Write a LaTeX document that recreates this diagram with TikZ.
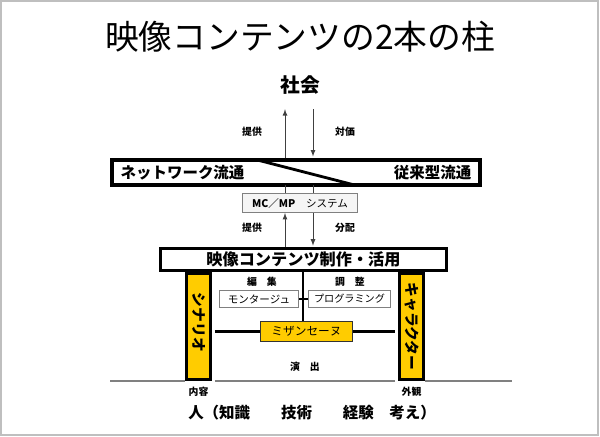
\documentclass[tikz,border=0pt]{standalone}
\usepackage{fontspec}
\setmainfont{Noto Sans CJK JP}
\usetikzlibrary{arrows, calc, positioning}
\definecolor{saeulengelb}{HTML}{FFCC00}

\begin{document}
\begin{tikzpicture}[x=0.025cm, y=-0.025cm,
			>=latex,   %Pfeilspitzen
			kasten/.style={draw, rectangle, inner sep=0pt},
			klein/.style={font=\fontsize{7}{8}\selectfont\bfseries, inner sep=1pt},
			gross/.style={font=\fontsize{11}{13}\selectfont\bfseries, inner sep=0pt},
			pfeil/.style={->, draw=black!75, line width=0.6pt},
			saeule/.style={kasten, fill=saeulengelb, line width=1.8pt, minimum width=0.61cm, minimum height=2.66cm},
			boden/.style={draw=gray, line width=0.9pt}]
			%Rahmen
			\useasboundingbox (0,0) rectangle (600,436);
			\draw[gray!50, line width=0.8pt] (1,1) rectangle (598,435);
			%Titel und Gesellschaft
			\node[font=\fontsize{24}{28}\selectfont] (titel) at (300,37) {映像コンテンツの2本の柱};
			\node[font=\fontsize{14}{16}\selectfont\bfseries] (gesell) at (300,85) {社会};
			% Hilfskoordinaten fuer die Pfeile
			\coordinate (hoch) at (285,0);
			\coordinate (runter) at (313,0);
			\coordinate (mitte) at (303,0);
			%Vertrieb
			\node[kasten, outer sep=0pt, minimum width=9.2cm, minimum height=0.625cm] (netz) at (296,172.5) {};
			\draw[line width=2pt] ($(netz.north west)!0.395!(netz.north east)$) -- ($(netz.south west)!0.659!(netz.south east)$);
			\draw[line width=2.8pt] (netz.north west) rectangle (netz.south east);
			\node[gross, anchor=west] (netzl) at ([xshift=6pt]netz.west) {ネットワーク流通};
			\node[gross, anchor=east] (netzr) at ([xshift=-6pt]netz.east) {従来型流通};
			\node[kasten, draw=gray, fill=gray!8, line width=0.7pt, minimum width=2.875cm, minimum height=0.475cm,
				font=\fontsize{7.5}{9}\selectfont] (mcmp) at (300,203) {{\bfseries MC／MP}　システム};
			%Produktion
			\node[kasten, line width=2pt, minimum width=7.15cm, minimum height=0.55cm,
				font=\fontsize{11.5}{13}\selectfont\bfseries] (prod) at (303.5,259.5) {映像コンテンツ制作・活用};
			%Pfeile
			\draw[pfeil, shorten <=1.4pt, shorten >=7pt] (netz.north -| hoch) -- (gesell.south -| hoch);
			\draw[pfeil, shorten <=7pt, shorten >=2.5pt] (gesell.south -| runter) -- (netz.north -| runter);
			\draw[draw=black!75, line width=0.6pt] (netz.south -| hoch) -- (mcmp.north -| hoch);
			\draw[draw=black!75, line width=0.6pt] (netz.south -| runter) -- (mcmp.north -| runter);
			\draw[pfeil] (prod.north -| hoch) -- (mcmp.south -| hoch);
			\draw[pfeil, shorten >=1pt] (mcmp.south -| runter) -- (prod.north -| runter);
			\foreach \x/\y/\t in {252/132/提供, 345/132/対価, 252/228/提供, 345/228/分配}
				\node[klein] (lab-\x-\y) at (\x,\y) {\t};
			%Boden
			\coordinate (bodenl) at (110,381);
			\coordinate (bodenr) at (512,381);
			%Saeulen
			\node[saeule] (links) at (198.5,326.5) {};
			\node[saeule] (rechts) at (411.5,326.5) {};
			\draw[boden] (bodenl) -- (bodenl -| links.west);
			\draw[boden] ([xshift=2pt]bodenl -| links.east) -- ([xshift=-2pt]bodenl -| rechts.west);
			\draw[boden] (bodenl -| rechts.east) -- (bodenr);
			\node[gross, font=\fontsize{10.5}{12}\selectfont\bfseries, rotate=-90] (szenario) at ([yshift=3pt]links) {シナリオ};
			\node[gross, font=\fontsize{10.5}{12}\selectfont\bfseries, rotate=-90] (figur) at (rechts) {キャラクター};
			%Innenteil
			\node[kasten, draw=gray, line width=0.7pt, minimum width=1.975cm, minimum height=0.425cm,
				font=\fontsize{7.5}{9}\selectfont] (montage) at (259,299) {モンタージュ};
			\node[kasten, draw=gray, line width=0.7pt, minimum width=2.05cm, minimum height=0.425cm,
				font=\fontsize{7.2}{9}\selectfont] (prog) at (349.5,299) {プログラミング};
			\node[kasten, draw=black!80, fill=saeulengelb, line width=0.8pt, minimum width=2.3cm, minimum height=0.5cm,
				font=\fontsize{8.3}{10}\selectfont] (mizan) at (306.5,331.5) {ミザンセーヌ};
			\draw[line width=1.5pt] (prod.south -| mitte) -- (mizan.north -| mitte);
			\draw[line width=1.1pt] (montage.east) -- (prog.west);
			\draw[line width=1.6pt, shorten <=2pt] (mizan.west -| links.east) -- (mizan.west);
			\draw[line width=1.6pt, shorten >=2pt] (mizan.east) -- (mizan.east -| rechts.west);
			\node[klein] (edit) at (262,282) {編　集};
			\node[klein] (abst) at (350,282) {調　整};
			\node[klein] (regie) at (305,367) {演　出};
			% Beschriftung unten
			\node[klein, below=3pt of links] (inhalt) {内容};
			\node[klein, below=3pt of rechts] (aussen) {外観};
			\node[gross] (mensch) at (312,413) {人（知識　　技術　　経験　考え）};
		\end{tikzpicture}
\end{document}
